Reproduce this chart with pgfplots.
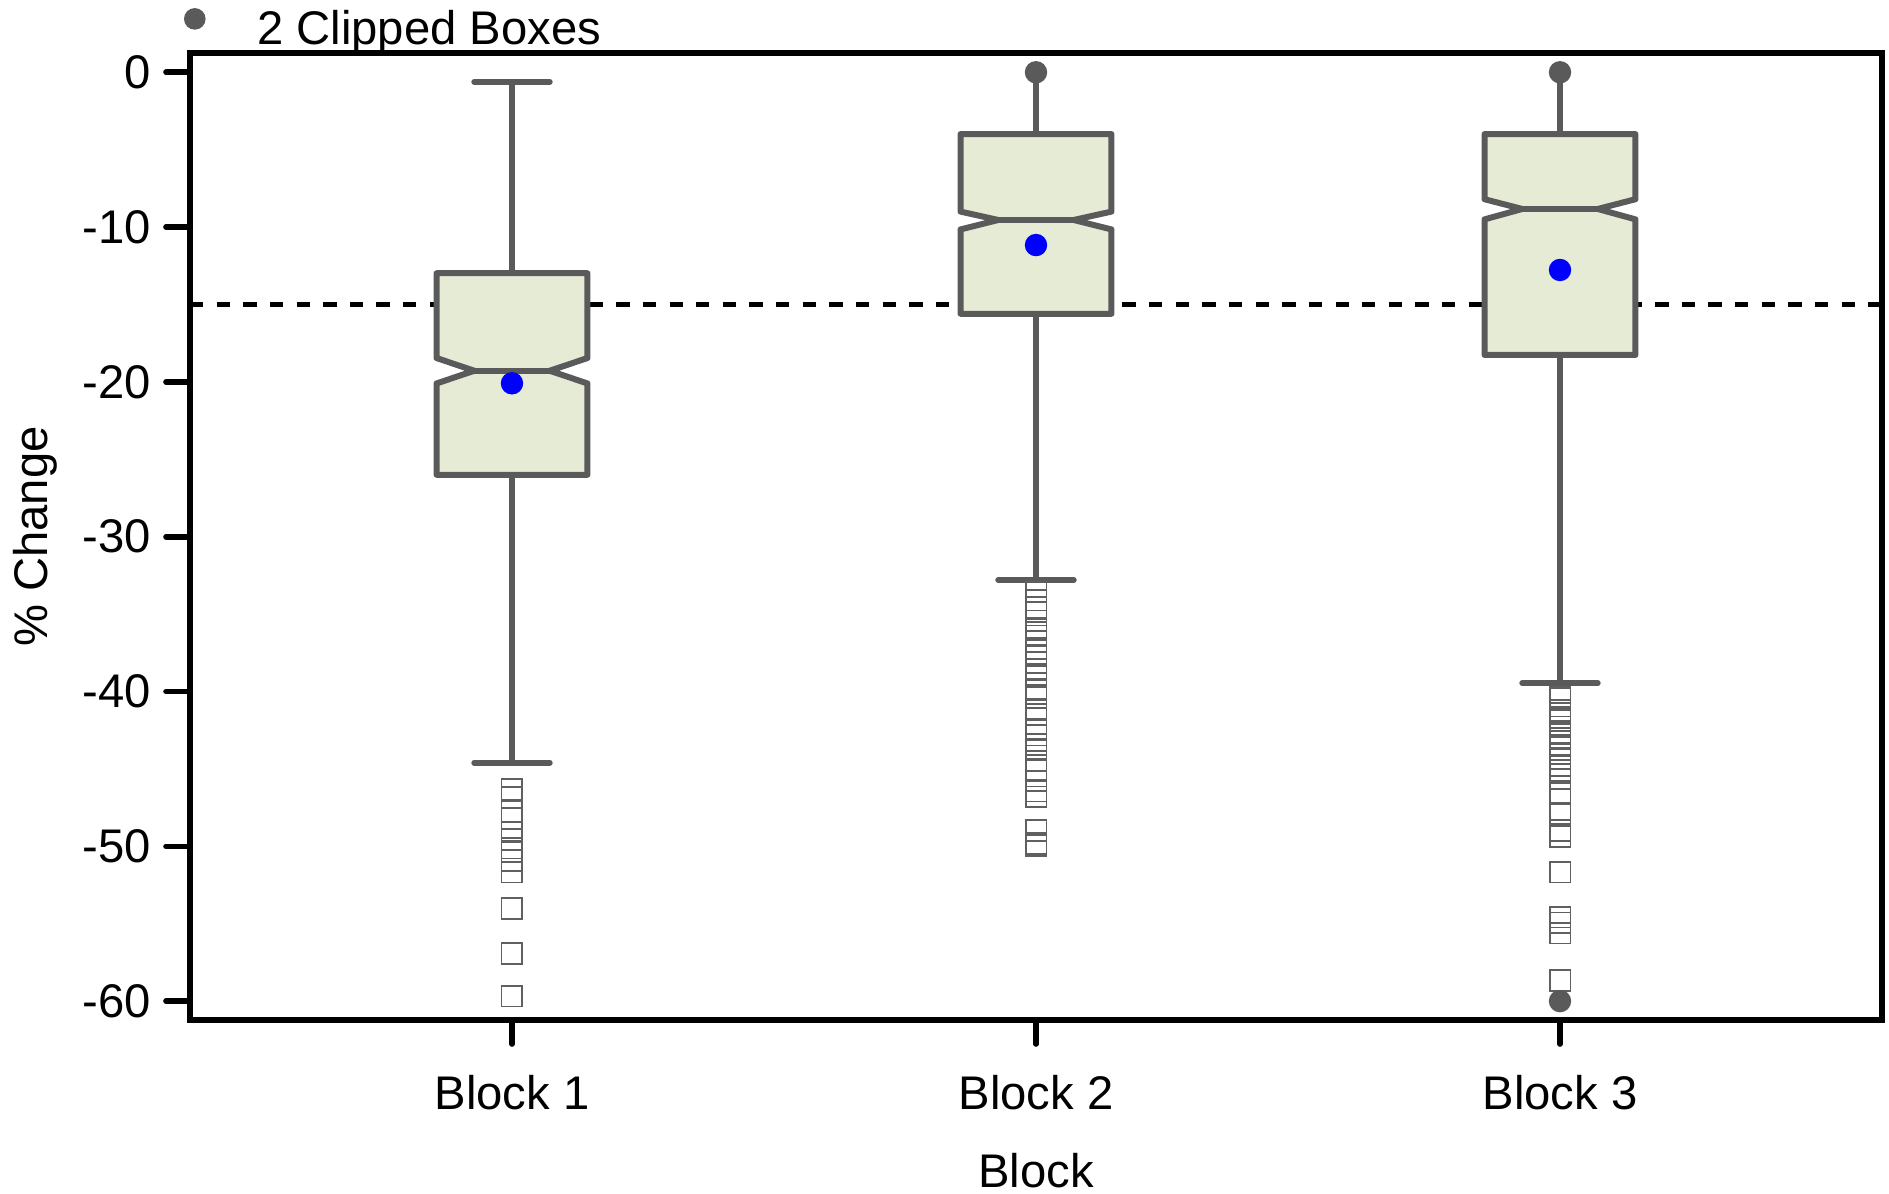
\documentclass[border=0pt]{standalone}
\usepackage{fontspec}
\setmainfont{Liberation Sans}
\usepackage{pgfplots}
\pgfplotsset{compat=1.18}
\definecolor{boxgray}{HTML}{5A5A5A}
\definecolor{boxfill}{HTML}{E6EBD6}
\definecolor{outgray}{HTML}{606060}
\begin{document}
\fontsize{11.8bp}{14bp}\selectfont
\begin{tikzpicture}
\begin{axis}[name=ax,
  scale only axis, width=423bp, height=241.75bp,
  xmin=0.3855, xmax=3.6145, ymin=-61.22, ymax=1.247,
  axis line style={line width=1.4bp, black},
  tick pos=left, tick align=outside,
  major tick length=6bp,
  tick style={line width=1.4bp, black, line cap=round},
  xtick={1,2,3}, xticklabels={Block 1,Block 2,Block 3},
  ytick={-60,-50,-40,-30,-20,-10,0}, yticklabels={-60,-50,-40,-30,-20,-10,0},
  tick label style={font=\fontsize{11.8bp}{14bp}\selectfont},
  xticklabel style={yshift=-3.6bp},
  yticklabel style={xshift=0.3bp},
  label style={font=\fontsize{11.8bp}{14bp}\selectfont},
  every axis x label/.style={at={(axis description cs:0.5,0)}, anchor=base, yshift=-41.75bp},
  every axis y label/.style={at={(axis description cs:-0.0916,0.5)}, rotate=90, anchor=center},
  xlabel={Block}, ylabel={\% Change},
  clip=false,
  legend style={at={(0,1)}, anchor=south west, draw=none, fill=none, inner sep=0pt,
    xshift=-1.1bp, yshift=1.85bp,
    nodes={inner sep=0pt, text depth=0pt},
    font=\fontsize{11.8bp}{14bp}\selectfont},
  legend cell align=left,
]
% reference line
\addplot[black, line width=1.2bp, dash pattern=on 3.33bp off 3.33bp, forget plot] coordinates {(0.3855,-15) (3.6145,-15)};

% Block 1
\addplot[boxgray, line width=1.5bp, line cap=round, forget plot] coordinates {(1,-12.98) (1,-0.62)};
\addplot[boxgray, line width=1.5bp, line cap=round, forget plot] coordinates {(0.928,-0.62) (1.072,-0.62)};
\addplot[boxgray, line width=1.5bp, line cap=round, forget plot] coordinates {(1,-26.0) (1,-44.6)};
\addplot[boxgray, line width=1.5bp, line cap=round, forget plot] coordinates {(0.928,-44.6) (1.072,-44.6)};
\addplot[draw=boxgray, fill=boxfill, line width=1.5bp, line join=round, forget plot] coordinates {
 (0.856,-12.98) (1.144,-12.98) (1.144,-18.46) (1.072,-19.28) (1.144,-20.1) (1.144,-26.0)
 (0.856,-26.0) (0.856,-20.1) (0.928,-19.28) (0.856,-18.46)} -- cycle;
\addplot[boxgray, line width=1.5bp, forget plot] coordinates {(0.928,-19.28) (1.072,-19.28)};

% Block 2
\addplot[boxgray, line width=1.5bp, line cap=round, forget plot] coordinates {(2,-3.99) (2,0)};
\addplot[boxgray, line width=1.5bp, line cap=round, forget plot] coordinates {(2,-15.6) (2,-32.8)};
\addplot[boxgray, line width=1.5bp, line cap=round, forget plot] coordinates {(1.928,-32.8) (2.072,-32.8)};
\addplot[draw=boxgray, fill=boxfill, line width=1.5bp, line join=round, forget plot] coordinates {
 (1.856,-3.99) (2.144,-3.99) (2.144,-9.0) (2.072,-9.54) (2.144,-10.15) (2.144,-15.6)
 (1.856,-15.6) (1.856,-10.15) (1.928,-9.54) (1.856,-9.0)} -- cycle;
\addplot[boxgray, line width=1.5bp, forget plot] coordinates {(1.928,-9.54) (2.072,-9.54)};

% Block 3
\addplot[boxgray, line width=1.5bp, line cap=round, forget plot] coordinates {(3,-3.99) (3,0)};
\addplot[boxgray, line width=1.5bp, line cap=round, forget plot] coordinates {(3,-18.26) (3,-39.46)};
\addplot[boxgray, line width=1.5bp, line cap=round, forget plot] coordinates {(2.928,-39.46) (3.072,-39.46)};
\addplot[draw=boxgray, fill=boxfill, line width=1.5bp, line join=round, forget plot] coordinates {
 (2.856,-3.99) (3.144,-3.99) (3.144,-8.2) (3.072,-8.83) (3.144,-9.5) (3.144,-18.26)
 (2.856,-18.26) (2.856,-9.5) (2.928,-8.83) (2.856,-8.2)} -- cycle;
\addplot[boxgray, line width=1.5bp, forget plot] coordinates {(2.928,-8.83) (3.072,-8.83)};

% outliers
\addplot[only marks, mark=square, mark size=2.6bp, mark options={draw=outgray, line width=0.45bp, fill=none}, forget plot] coordinates {
 (1,-46.34) (1,-46.86) (1,-47.78) (1,-48.21) (1,-49.07) (1,-50.11) (1,-50.32) (1,-50.9)
 (1,-51.66) (1,-54.03) (1,-56.93) (1,-59.67)
 (2,-33.57) (2,-34.09) (2,-34.58) (2,-34.86) (2,-35.44) (2,-35.98) (2,-36.41) (2,-36.74)
 (2,-37.23) (2,-37.66) (2,-38.13) (2,-38.57) (2,-38.89) (2,-39.86) (2,-40.39) (2,-41.15)
 (2,-41.47) (2,-42.44) (2,-42.81) (2,-43.41) (2,-43.73) (2,-44.49) (2,-45.03) (2,-45.78)
 (2,-46.43) (2,-46.81) (2,-48.97) (2,-49.83) (2,-49.94)
 (3,-40.35) (3,-40.46) (3,-41.21) (3,-41.42) (3,-41.86) (3,-42.29) (3,-42.72) (3,-43.04)
 (3,-43.48) (3,-44.02) (3,-44.34) (3,-44.77) (3,-45.1) (3,-45.64) (3,-46.6) (3,-47.89)
 (3,-48.97) (3,-49.35) (3,-51.66) (3,-54.57) (3,-54.95) (3,-55.6) (3,-58.66)
};

% means
\addplot[only marks, mark=*, mark size=2.6bp, mark options={draw=blue, fill=blue}, forget plot] coordinates {(1,-20.09) (2,-11.16) (3,-12.77)};

% clipped
\addplot[only marks, mark=*, mark size=2.6bp, mark options={draw=boxgray, fill=boxgray},
  legend image code/.code={\path (0bp,0bp) (17.35bp,0bp); \node[overlay, circle, fill=boxgray, inner sep=0pt, minimum size=5.4bp] at (-1.0bp,2.2bp) {};}]
  coordinates {(2,0) (3,0) (3,-60)};
\addlegendentry{2 Clipped Boxes}
\end{axis}
\pgfresetboundingbox
\path ([xshift=-47.5bp,yshift=-43.5bp]ax.south west) rectangle ([xshift=1.75bp,yshift=13.25bp]ax.north east);
\end{tikzpicture}
\end{document}
